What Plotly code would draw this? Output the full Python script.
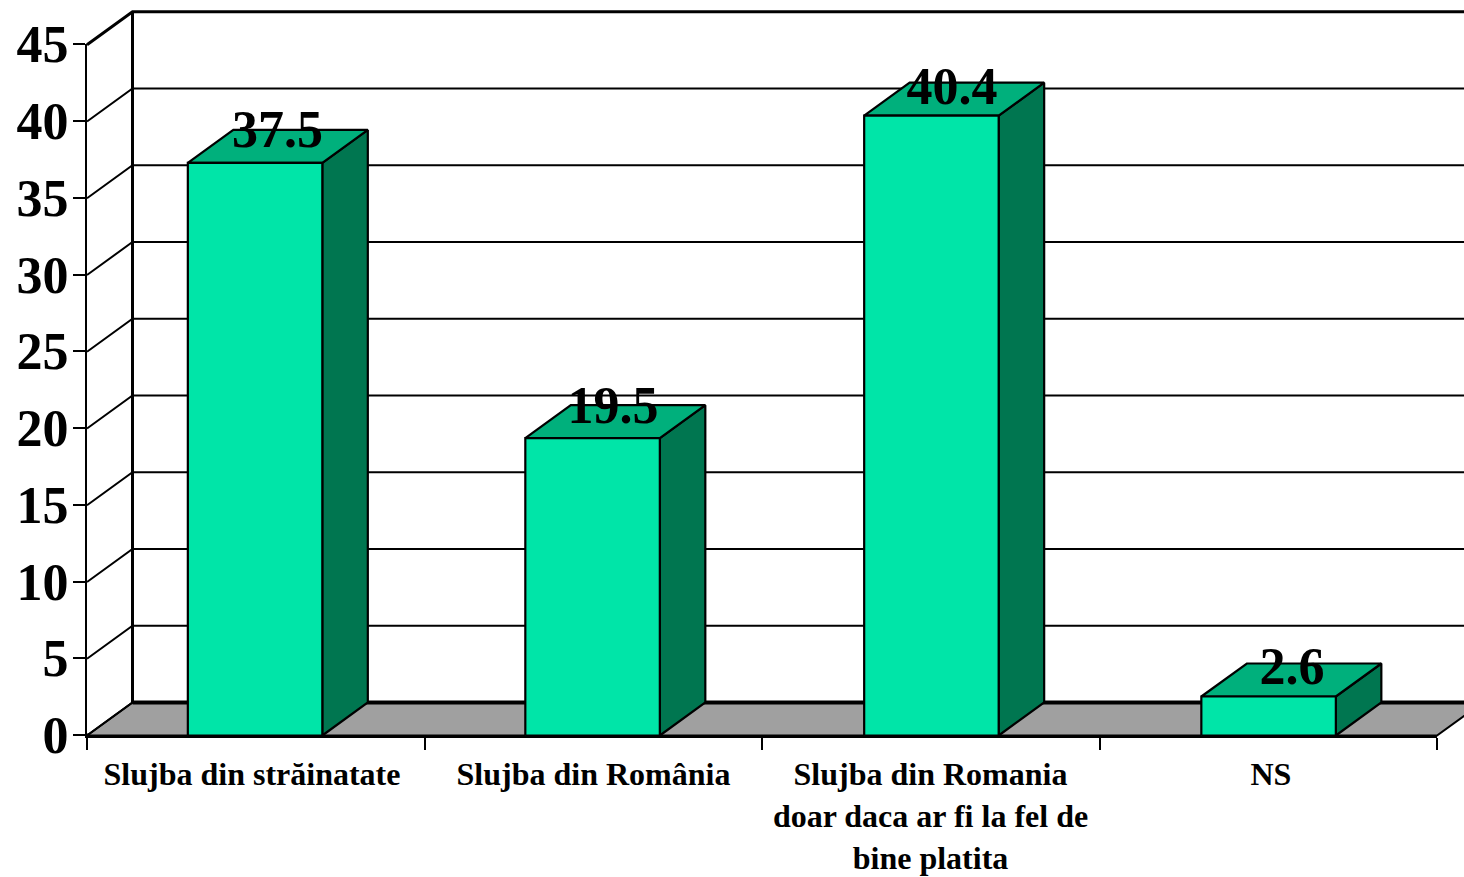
import plotly.graph_objects as go

# ---- data
categories = ["Slujba din străinatate", "Slujba din România",
              "Slujba din Romania<br>doar daca ar fi la fel de<br>bine platita", "NS"]
bar_heights = [37.3, 19.37, 40.38, 2.54]
value_labels = ["37.5", "19.5", "40.4", "2.6"]
y_ticks = [0, 5, 10, 15, 20, 25, 30, 35, 40, 45]
bar_centers = [0.498, 1.498, 2.502, 3.501]
label_x = [0.5644, 1.5585, 2.563, 3.5704]
label_y = [39.16, 21.19, 41.98, 4.17]
category_label_x = [0.4889, 1.5007, 2.4993, 3.508]

# ---- styling
W, H = 1464, 877
X0_PX, Y0_PX = 87, 735.5
AXIS_Y0_PX = 735
CAT_PX, UNIT_PX = 337.5, 15.35
DX, DY = 45.5 / CAT_PX, 33 / UNIT_PX      # 3-D depth in data units
BAR_W = 134.5 / CAT_PX
FRONT, TOP, SIDE = "#00E5A8", "#00B07C", "#007650"
FLOOR = "#A0A0A0"
FONT = "Liberation Serif"
n = len(categories)
x_max = (W - X0_PX) / CAT_PX + 0.2      # walls run past the right edge

fig = go.Figure()


def poly(xs, ys, fill=None, width=2.0):
    # the 3-D scene lives on a full-canvas overlay axis pair with the same scale
    fig.add_trace(go.Scatter(
        x=xs, y=ys, mode="lines", hoverinfo="skip", showlegend=False,
        xaxis="x2", yaxis="y2",
        fill="toself" if fill else "none", fillcolor=fill,
        line=dict(color="black", width=width),
    ))


# floor
poly([0, DX, n + DX, n, 0], [0, DY, DY, 0, 0], fill=FLOOR, width=2)
# back wall grid + side-wall diagonals
for t in y_ticks:
    poly([0, DX, x_max], [t, t + DY, t + DY], width=3 if t == 45 else 2)
# back wall edge and back floor edge
poly([DX, DX], [DY, y_ticks[-1] + DY], width=3)
poly([DX, x_max], [DY, DY], width=4)

# bars
for c, v in zip(bar_centers, bar_heights):
    l, r = c - BAR_W / 2, c + BAR_W / 2
    poly([r, r + DX, r + DX, r, r], [0, DY, v + DY, v, 0], fill=SIDE, width=2.2)
    poly([l, l + DX, r + DX, r, l], [v, v + DY, v + DY, v, v], fill=TOP, width=2.2)
    poly([l, r, r, l, l], [0, 0, v, v, 0], fill=FRONT, width=2.2)

# value labels
fig.add_trace(go.Scatter(
    x=label_x, y=label_y, xaxis="x2", yaxis="y2",
    text=value_labels, mode="text", textposition="middle center",
    textfont=dict(family=FONT, size=52, color="black", weight="bold"),
    hoverinfo="skip", showlegend=False,
))

# keeps the visible axis pair alive
fig.add_trace(go.Scatter(x=[0, n], y=[0, 0], mode="lines", hoverinfo="skip", showlegend=False,
                         line=dict(color="black", width=3), cliponaxis=False))

fig.update_layout(
    width=W, height=H, margin=dict(l=0, r=0, t=0, b=0, autoexpand=False),
    paper_bgcolor="white", plot_bgcolor="rgba(0,0,0,0)", showlegend=False,
    xaxis=dict(
        domain=[X0_PX / W, (X0_PX + n * CAT_PX) / W], range=[0, n],
        showgrid=False, zeroline=False, automargin=False,
        tickmode="array", tickvals=category_label_x, ticktext=categories,
        ticks="", ticklen=0, ticklabelstandoff=9, tickangle=0,
        tickfont=dict(family=FONT, size=32, color="black", weight="bold"),
        showline=True, linecolor="black", linewidth=3,
        minor=dict(tickmode="array", tickvals=list(range(n + 1)), ticks="outside",
                   ticklen=12, tickwidth=2, tickcolor="black"),
    ),
    yaxis=dict(
        domain=[(H - AXIS_Y0_PX) / H, (H - AXIS_Y0_PX + y_ticks[-1] * UNIT_PX) / H],
        range=[0, y_ticks[-1]], showgrid=False, zeroline=False, automargin=False,
        tickmode="array", tickvals=y_ticks, ticktext=[str(t) for t in y_ticks],
        ticks="outside", ticklen=12, tickwidth=2, tickcolor="black",
        ticklabelstandoff=-6,
        tickfont=dict(family=FONT, size=52, color="black", weight="bold"),
        showline=True, linecolor="black", linewidth=2,
    ),
    xaxis2=dict(domain=[0, 1], range=[-X0_PX / CAT_PX, (W - X0_PX) / CAT_PX], anchor="y2",
                visible=False, automargin=False),
    yaxis2=dict(domain=[0, 1], range=[-(H - Y0_PX) / UNIT_PX, Y0_PX / UNIT_PX], anchor="x2",
                visible=False, automargin=False),
)

fig.write_html("out.html", config={"displayModeBar": False},
               post_script="document.body.style.margin='0';document.body.style.overflow='hidden';")
